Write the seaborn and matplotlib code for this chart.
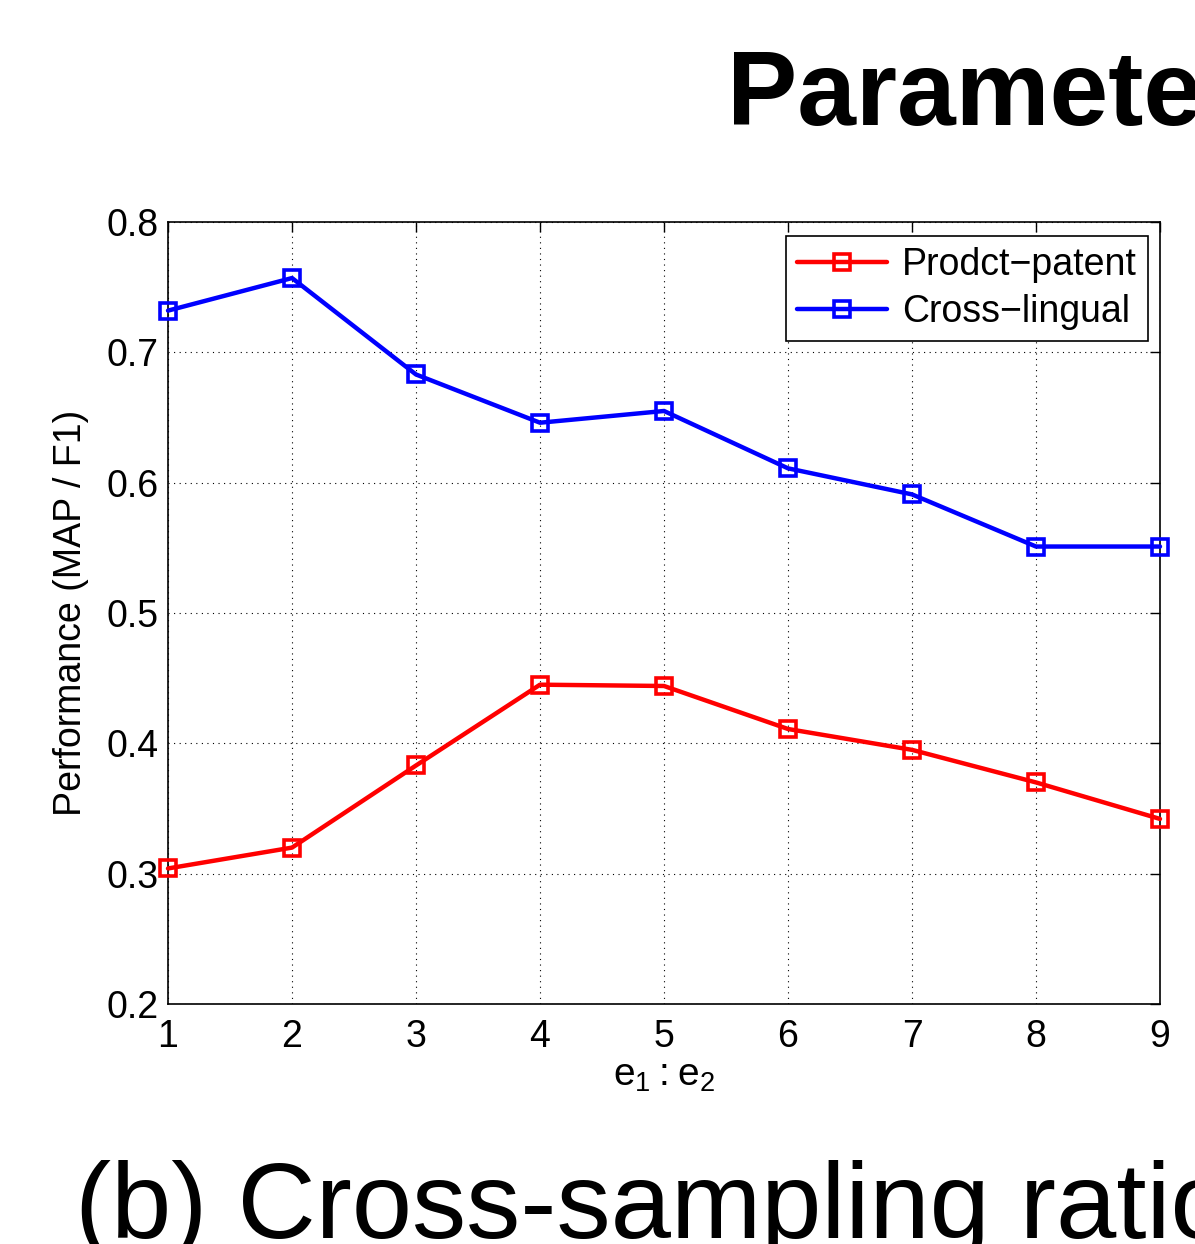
import matplotlib
matplotlib.use("Agg")
import matplotlib.pyplot as plt
import seaborn as sns
import pandas as pd

ratios = [1, 2, 3, 4, 5, 6, 7, 8, 9]
product_patent = [0.304, 0.320, 0.383, 0.445, 0.444, 0.411, 0.395, 0.370, 0.342]
cross_lingual = [0.732, 0.757, 0.683, 0.646, 0.655, 0.611, 0.591, 0.551, 0.551]
series_names = ["Prodct\u2212patent", "Cross\u2212lingual"]
series_colors = ["#ff0000", "#0000ff"]
yticks = [0.2, 0.3, 0.4, 0.5, 0.6, 0.7, 0.8]

sns.set_theme(style="white")
plt.rcParams['font.family'] = ['Liberation Sans', 'DejaVu Sans']
plt.rcParams['mathtext.fontset'] = 'custom'
plt.rcParams['mathtext.rm'] = 'Liberation Sans'
plt.rcParams['text.color'] = 'black'
plt.rcParams['axes.labelcolor'] = 'black'
plt.rcParams['xtick.color'] = 'black'
plt.rcParams['ytick.color'] = 'black'

df = pd.DataFrame({
    "ratio": ratios * 2,
    "value": product_patent + cross_lingual,
    "series": [series_names[0]] * len(ratios) + [series_names[1]] * len(ratios),
})

fig = plt.figure(figsize=(11.95, 12.44), dpi=100)
ax = fig.add_axes([168 / 1195, 1 - 1004 / 1244, (1160 - 168) / 1195, (1004 - 222) / 1244])

sns.lineplot(data=df, x="ratio", y="value", hue="series", palette=series_colors,
             marker="s", markersize=11, markerfacecolor="none", markeredgewidth=2.6,
             linewidth=3.2, ax=ax, legend=True, clip_on=False, zorder=5)
for line, c in zip(ax.lines, series_colors):
    line.set_markeredgecolor(c)

ax.set_xlim(1, 9)
ax.set_ylim(0.2, 0.8)
ax.set_xticks(ratios)
ax.set_yticks(yticks)
ax.set_xticklabels([str(r) for r in ratios])
ax.set_yticklabels([f"{t:.1f}" for t in yticks])
ax.tick_params(direction="in", length=7, width=1, top=True, right=True,
               labelsize=27, colors="black", pad=7)
ax.tick_params(axis="x", pad=11)
ax.grid(True, linestyle=(0, (1, 4)), color="black", linewidth=0.8)
for s in ax.spines.values():
    s.set_color("black")
    s.set_linewidth(1.2)
    s.set_visible(True)

ax.set_xlabel(r"$\mathregular{e_1 : e_2}$", fontsize=28, labelpad=2, color="black")
ax.set_ylabel("Performance (MAP / F1)", fontsize=27, labelpad=12, color="black")

handles, labels = ax.get_legend_handles_labels()
for h, c in zip(handles, series_colors):
    h.set_markeredgecolor(c)
    h.set_markerfacecolor("none")
leg = ax.legend(handles, labels, loc="upper right", fontsize=27, frameon=True,
                fancybox=False, edgecolor="black", framealpha=1,
                bbox_to_anchor=(0.988, 0.982),
                borderaxespad=0.0, handlelength=2.4, borderpad=0.3,
                labelspacing=0.28, handletextpad=0.4)
leg.get_frame().set_linewidth(1.2)
for t in leg.get_texts():
    t.set_color("black")

fig.text(727 / 1195, 1 - 125 / 1244, "Parameter sensitivity", fontsize=76,
         fontweight="bold", ha="left", va="baseline", color="black")
fig.text(75 / 1195, 1 - 1238 / 1244, "(b) Cross-sampling ratio", fontsize=78,
         ha="left", va="baseline", color="black")

fig.savefig("out.png", dpi=100)
